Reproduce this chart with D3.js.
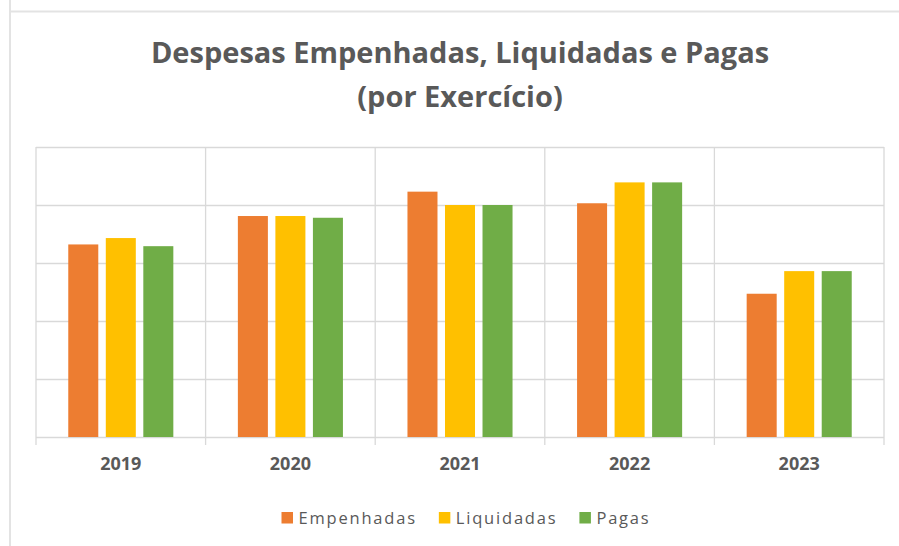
<!DOCTYPE html>
<html>
<head>
<meta charset="utf-8">
<script src="https://cdn.jsdelivr.net/npm/d3@7"></script>
<style>
  body { margin: 0; background: #fff; }
  svg { display: block; }
</style>
</head>
<body>
<div id="chart"></div>
<script>
// Data (no value axis shown, arbitrary units)
const years = ['2019', '2020', '2021', '2022', '2023']
const seriesNames = ['Empenhadas', 'Liquidadas', 'Pagas']
const empenhadas = [3.32, 3.81, 4.23, 4.03, 2.47]
const liquidadas = [3.43, 3.81, 4.00, 4.39, 2.86]
const pagas = [3.29, 3.78, 4.00, 4.39, 2.86]
const yTicks = [0, 1, 2, 3, 4, 5]
const titleLines = ['Despesas Empenhadas, Liquidadas e Pagas', '(por Exercício)']

const colors = ['#ED7D31', '#FFC000', '#70AD47']
const textColor = '#595959'
const gridColor = '#d9d9d9'

;(() => {
  const width = 899
  const height = 546
  const plot = { left: 36, right: 884, top: 147, bottom: 437 }

  const svg = d3.select('#chart')
    .append('svg')
    .attr('width', width)
    .attr('height', height)

  // Outer frame (only the top and left edges are visible)
  svg.append('line')
    .attr('x1', 10).attr('x2', width).attr('y1', 11.5).attr('y2', 11.5)
    .attr('stroke', '#e3e3e3').attr('stroke-width', 2)
  svg.append('line')
    .attr('x1', 10).attr('x2', 10).attr('y1', 0).attr('y2', height)
    .attr('stroke', '#e3e3e3').attr('stroke-width', 2)

  // Title
  svg.append('text')
    .attr('text-anchor', 'middle')
    .attr('font-family', 'Open Sans')
    .attr('font-weight', 'bold')
    .attr('font-size', 29)
    .attr('fill', textColor)
    .selectAll('tspan')
    .data(titleLines)
    .join('tspan')
    .attr('x', 460)
    .attr('y', (d, i) => 63 + i * 44)
    .text(d => d)

  // Scales
  const x0 = d3.scaleBand().domain(years).range([plot.left, plot.right])
  const x1 = d3.scaleBand().domain(seriesNames)
    .range([0, x0.bandwidth()])
    .paddingInner(0.2)
    .paddingOuter(0.86)
  const y = d3.scaleLinear().domain([0, 5]).range([plot.bottom, plot.top])

  // Horizontal gridlines
  svg.append('g')
    .attr('transform', `translate(${plot.left}, 0)`)
    .call(d3.axisLeft(y).tickValues(yTicks).tickSize(-(plot.right - plot.left)).tickFormat(''))
    .call(g => g.select('.domain').remove())
    .call(g => g.selectAll('line').attr('stroke', gridColor).attr('stroke-width', 1.3))

  // Vertical gridlines at category boundaries, with ticks below the axis
  const bounds = years.map(d => x0(d)).concat([plot.right])
  svg.append('g')
    .selectAll('line')
    .data(bounds)
    .join('line')
    .attr('x1', d => d).attr('x2', d => d)
    .attr('y1', plot.top).attr('y2', plot.bottom + 8)
    .attr('stroke', gridColor)
    .attr('stroke-width', 1.3)

  // Bars
  const table = years.map((yr, i) => ({
    year: yr,
    values: [empenhadas[i], liquidadas[i], pagas[i]]
  }))

  svg.append('g')
    .selectAll('g')
    .data(table)
    .join('g')
    .attr('transform', d => `translate(${x0(d.year)}, 0)`)
    .selectAll('rect')
    .data(d => d.values.map((v, j) => ({ key: seriesNames[j], value: v, idx: j })))
    .join('rect')
    .attr('x', d => x1(d.key))
    .attr('width', x1.bandwidth())
    .attr('y', d => y(d.value))
    .attr('height', d => y(0) - y(d.value))
    .attr('fill', d => colors[d.idx])

  // Category axis labels
  svg.append('g')
    .attr('transform', `translate(0, ${plot.bottom})`)
    .call(d3.axisBottom(x0).tickSize(0).tickPadding(0))
    .call(g => g.select('.domain').remove())
    .call(g => g.selectAll('text')
      .attr('dy', null)
      .attr('y', 33)
      .attr('font-family', 'Open Sans')
      .attr('font-weight', 'bold')
      .attr('font-size', 18)
      .attr('fill', textColor))

  // Legend
  const legend = svg.append('g')
  let cx = 0
  seriesNames.forEach((name, i) => {
    const item = legend.append('g').attr('transform', `translate(${cx}, 0)`)
    item.append('rect')
      .attr('x', 0).attr('y', -11.5)
      .attr('width', 11.5).attr('height', 11.5)
      .attr('fill', colors[i])
    const t = item.append('text')
      .attr('x', 17)
      .attr('font-family', 'Open Sans')
      .attr('font-size', 16.5)
      .attr('letter-spacing', 1.8)
      .attr('fill', textColor)
      .text(name)
    cx += 17 + t.node().getComputedTextLength() + 22
  })
  const legendWidth = cx - 22
  legend.attr('transform', `translate(${466 - legendWidth / 2}, 523.5)`)
})()
</script>
</body>
</html>
